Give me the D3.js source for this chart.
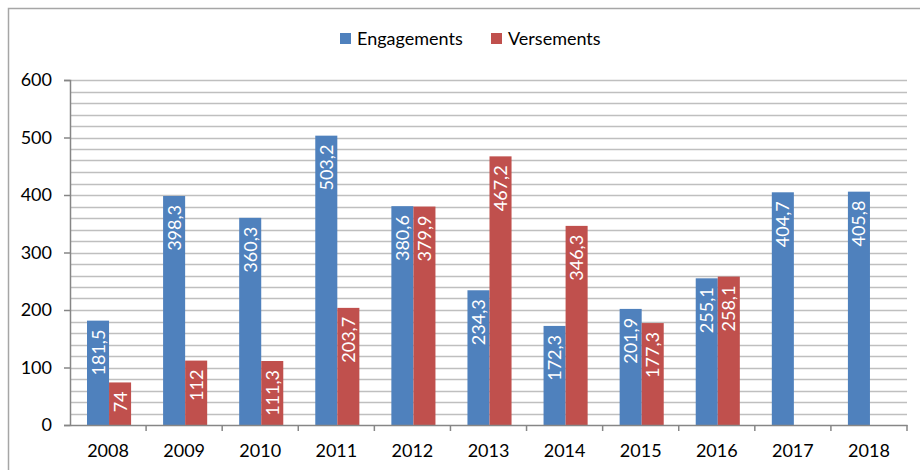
<!DOCTYPE html>
<meta charset="utf-8">
<html>
<head>
<title>Engagements et versements</title>
<style>
  body { margin: 0; background: #fff; }
  svg text { font-family: Lato, "Open Sans", sans-serif; }
</style>
</head>
<body>
<div id="viz"></div>
<script src="https://cdnjs.cloudflare.com/ajax/libs/d3/7.8.5/d3.min.js"></script>
<script>
var years = ["2008", "2009", "2010", "2011", "2012", "2013", "2014", "2015", "2016", "2017", "2018"];
var engagements = [181.5, 398.3, 360.3, 503.2, 380.6, 234.3, 172.3, 201.9, 255.1, 404.7, 405.8];
var versements = [74, 112, 111.3, 203.7, 379.9, 467.2, 346.3, 177.3, 258.1, null, null];
var seriesNames = ["Engagements", "Versements"];
var seriesColors = ["#4f81bd", "#c0504d"];
var yTicks = [0, 100, 200, 300, 400, 500, 600];

var W = 920, H = 470;
var mLeft = 70, mRight = 907, mTop = 80, mBottom = 425;
var fs = 18;

var svg = d3.select("#viz").append("svg")
    .attr("width", W)
    .attr("height", H);

// outer frame
svg.append("rect")
    .attr("x", 8.5).attr("y", 8.5)
    .attr("width", 930).attr("height", 480)
    .attr("fill", "none")
    .attr("stroke", "#a6a6a6")
    .attr("stroke-width", 1.5);

var x = d3.scaleBand().domain(years).range([mLeft, mRight]);
var y = d3.scaleLinear().domain([0, 600]).range([mBottom, mTop]);
var x1 = d3.scaleBand().domain(seriesNames).range([17, x.bandwidth() - 15]);

// minor gridlines every 20
svg.append("g").selectAll("line")
    .data(d3.range(20, 601, 20))
    .enter().append("line")
    .attr("x1", mLeft).attr("x2", mRight)
    .attr("y1", function (d) { return Math.round(y(d)) + 0.5; })
    .attr("y2", function (d) { return Math.round(y(d)) + 0.5; })
    .attr("stroke", "#bfbfbf")
    .attr("stroke-width", 1.5);

var data = [];
years.forEach(function (yr, i) {
    data.push({ year: yr, s: seriesNames[0], v: engagements[i], c: seriesColors[0] });
    if (versements[i] != null) {
        data.push({ year: yr, s: seriesNames[1], v: versements[i], c: seriesColors[1] });
    }
});

svg.append("g").selectAll("rect")
    .data(data)
    .enter().append("rect")
    .attr("x", function (d) { return x(d.year) + x1(d.s); })
    .attr("width", x1.bandwidth())
    .attr("y", function (d) { return y(d.v); })
    .attr("height", function (d) { return y(0) - y(d.v); })
    .attr("fill", function (d) { return d.c; });

svg.append("g").selectAll("text")
    .data(data)
    .enter().append("text")
    .attr("transform", function (d) {
        var cx = x(d.year) + x1(d.s) + x1.bandwidth() / 2;
        return "translate(" + cx + "," + (y(d.v) + 9) + ") rotate(-90)";
    })
    .attr("text-anchor", "end")
    .attr("dy", "0.36em")
    .attr("fill", "#fff")
    .attr("font-size", fs)
    .text(function (d) { return String(d.v).replace(".", ","); });

// y axis
var yAxis = svg.append("g")
    .attr("transform", "translate(" + mLeft + ",0)")
    .call(d3.axisLeft(y).tickValues(yTicks).tickSize(6).tickPadding(12));
yAxis.select(".domain").attr("stroke", "#868686").attr("stroke-width", 1.5);
yAxis.selectAll(".tick line").attr("stroke", "#868686").attr("stroke-width", 1.5);
yAxis.selectAll("text").attr("font-size", fs).attr("fill", "#000")
    .attr("font-family", "Lato, 'Open Sans', sans-serif");

// x axis
var xAxis = svg.append("g")
    .attr("transform", "translate(0," + mBottom + ")")
    .call(d3.axisBottom(x).tickSize(0).tickPadding(19));
xAxis.select(".domain").attr("stroke", "#868686").attr("stroke-width", 1.5);
xAxis.selectAll("text").attr("font-size", fs).attr("fill", "#000")
    .attr("font-family", "Lato, 'Open Sans', sans-serif");
xAxis.append("g").selectAll("line")
    .data(years)
    .enter().append("line")
    .attr("x1", function (d) { return x(d) + x.bandwidth(); })
    .attr("x2", function (d) { return x(d) + x.bandwidth(); })
    .attr("y1", 0).attr("y2", 6)
    .attr("stroke", "#868686")
    .attr("stroke-width", 1.5);

// legend
var legend = svg.append("g");
var legendX = [340, 491];
seriesNames.forEach(function (name, i) {
    legend.append("rect")
        .attr("x", legendX[i]).attr("y", 33)
        .attr("width", 11).attr("height", 11)
        .attr("fill", seriesColors[i]);
    legend.append("text")
        .attr("x", legendX[i] + 17).attr("y", 39)
        .attr("dy", "0.35em")
        .attr("font-size", fs)
        .text(name);
});
</script>
</body>
</html>
